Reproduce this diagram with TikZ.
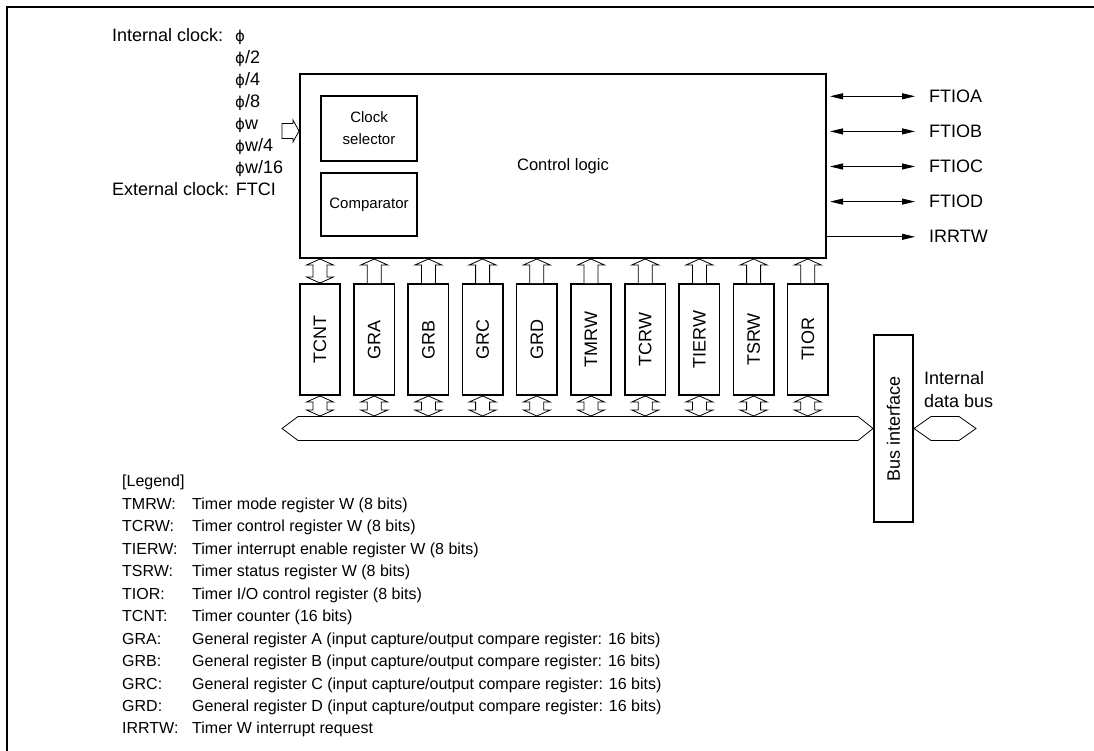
\documentclass[tikz,border=0pt]{standalone}
\usepackage{fontspec}
\setmainfont{Liberation Sans}
\newfontfamily\phifont{DejaVu Sans}
\usepackage{graphicx}
\usetikzlibrary{arrows.meta, positioning, calc}

\newcommand{\ph}{{\phifont\fontsize{15}{18}\selectfont ϕ}}

\begin{document}
\begin{tikzpicture}[
    x=1pt, y=-1pt,
    >={Triangle[length=13pt,width=6pt]},
    font=\fontsize{18}{22.5}\selectfont,
    box/.style={draw, line width=1.6pt, inner sep=0pt},
    reg/.style={box, minimum width=40.4pt, minimum height=111.4pt},
    inner/.style={box, font=\fontsize{15}{22}\selectfont, align=center},
    hollow/.style={draw, line width=0.8pt, fill=white},
    sig/.style={line width=0.8pt},
    lbl/.style={anchor=base west, inner sep=0pt},
    legend/.style={lbl, font=\fontsize{16}{19}\selectfont}
]

\useasboundingbox (0,0) rectangle (1094,751);

% -------- Frame --------
\draw[line width=2.5pt] (7,760) -- (7,7) -- (1100,7);

% -------- Control logic --------
\node[box, minimum width=526.4pt, minimum height=184.4pt, font=\fontsize{16.5}{20}\selectfont] (ctrl) at (563,166) {Control logic};
\node[inner, minimum width=96.4pt, minimum height=65.4pt] (clksel) at (369,128.5) {Clock\\selector};
\node[inner, minimum width=96.4pt, minimum height=63.4pt] (comp) at (369,204.5) {Comparator};

% -------- Clock sources --------
\node[lbl] (intclk) at (112,42) {Internal clock:};
\foreach \t [count=\k from 0] in {{}, /2, /4, /8, w, w/4, w/16} {
    \node[lbl] (src\k) at (235,42+21.9*\k) {\ph\t};
}
\node[lbl] (extclk) at (112,195.3) {External clock: FTCI};

% clock input arrow
\coordinate (clkin) at (ctrl.west |- 0,131);
\draw[hollow] (clkin) -- ++(-6,-11) -- ++(0,3.5) -- ++(-11,0) -- ++(0,15)
    -- ++(11,0) -- ++(0,3.5) -- cycle;

% -------- Timer pins --------
\foreach \s [count=\k from 0] in {FTIOA,FTIOB,FTIOC,FTIOD} {
    \node[lbl] (\s) at (929,102.5+35.1*\k) {\s};
    \draw[sig,<->] ([xshift=3pt]ctrl.east |- \s.west) -- ([xshift=-14pt]\s.west);
}
\node[lbl] (irrtw) at (929,243) {IRRTW};
\draw[sig,->] (ctrl.east |- irrtw.west) -- ([xshift=-14pt]irrtw.west);

% -------- Registers --------
\foreach \r [count=\i] in {TCNT,GRA,GRB,GRC,GRD,TMRW,TCRW,TIERW,TSRW,TIOR} {
    \node[reg] (r\i) at (265.8+54.2*\i,339.5) {\rotatebox{90}{\r}};
}

% register -> control logic (TCNT both ways)
\draw[hollow] (r1.north) -- ++(13.5,-6) -- ++(-6.5,0) -- ++(0,-12) -- ++(6.5,0)
    -- ++(-13.5,-6) -- ++(-13.5,6) -- ++(6.5,0) -- ++(0,12) -- ++(-6.5,0) -- cycle;
\foreach \i in {2,...,10} {
    \draw[hollow] ([xshift=-7pt]r\i.north) -- ++(0,-18) -- ++(-6.5,0) -- ++(13.5,-6)
        -- ++(13.5,6) -- ++(-6.5,0) -- ++(0,18);
}

% register <-> internal bus
\foreach \i in {1,...,10} {
    \draw[hollow] (r\i.south) -- ++(13.5,6) -- ++(-6.5,0) -- ++(0,8) -- ++(6.5,0)
        -- ++(-13.5,6) -- ++(-13.5,-6) -- ++(6.5,0) -- ++(0,-8) -- ++(-6.5,0) -- cycle;
}

% -------- Bus interface --------
\node[box, minimum width=39.4pt, minimum height=187.4pt] (bi) at (893.5,428.5) {\rotatebox{90}{Bus interface}};

% internal bus
\draw[hollow] (bi.west) -- ++(-15,-12) -- (298,416.5) -- (282,428.5) -- (298,440.5)
    -- ($(bi.west)+(-15,12)$) -- cycle;

% internal data bus
\draw[hollow] (bi.east) -- ++(17,-12) -- ++(28,0) -- ++(17,12) -- ++(-17,12)
    -- ++(-28,0) -- cycle;
\node[anchor=west, inner sep=0pt, align=left] (idb) at (924,389.5) {Internal\\data bus};

% -------- Legend --------
\node[legend] (leg) at (122,486.8) {[Legend]};
\foreach \a/\b [count=\k] in {
    TMRW:/{Timer mode register W (8 bits)},
    TCRW:/{Timer control register W (8 bits)},
    TIERW:/{Timer interrupt enable register W (8 bits)},
    TSRW:/{Timer status register W (8 bits)},
    TIOR:/{Timer I/O control register (8 bits)},
    TCNT:/{Timer counter (16 bits)},
    GRA:/{General register A (input capture/output compare register: 16 bits)},
    GRB:/{General register B (input capture/output compare register: 16 bits)},
    GRC:/{General register C (input capture/output compare register: 16 bits)},
    GRD:/{General register D (input capture/output compare register: 16 bits)},
    IRRTW:/{Timer W interrupt request}} {
    \node[legend] (lg\k) at (122,486.8+22.47*\k) {\a};
    \node[legend] (ld\k) at (192,486.8+22.47*\k) {\b};
}

\end{tikzpicture}
\end{document}
